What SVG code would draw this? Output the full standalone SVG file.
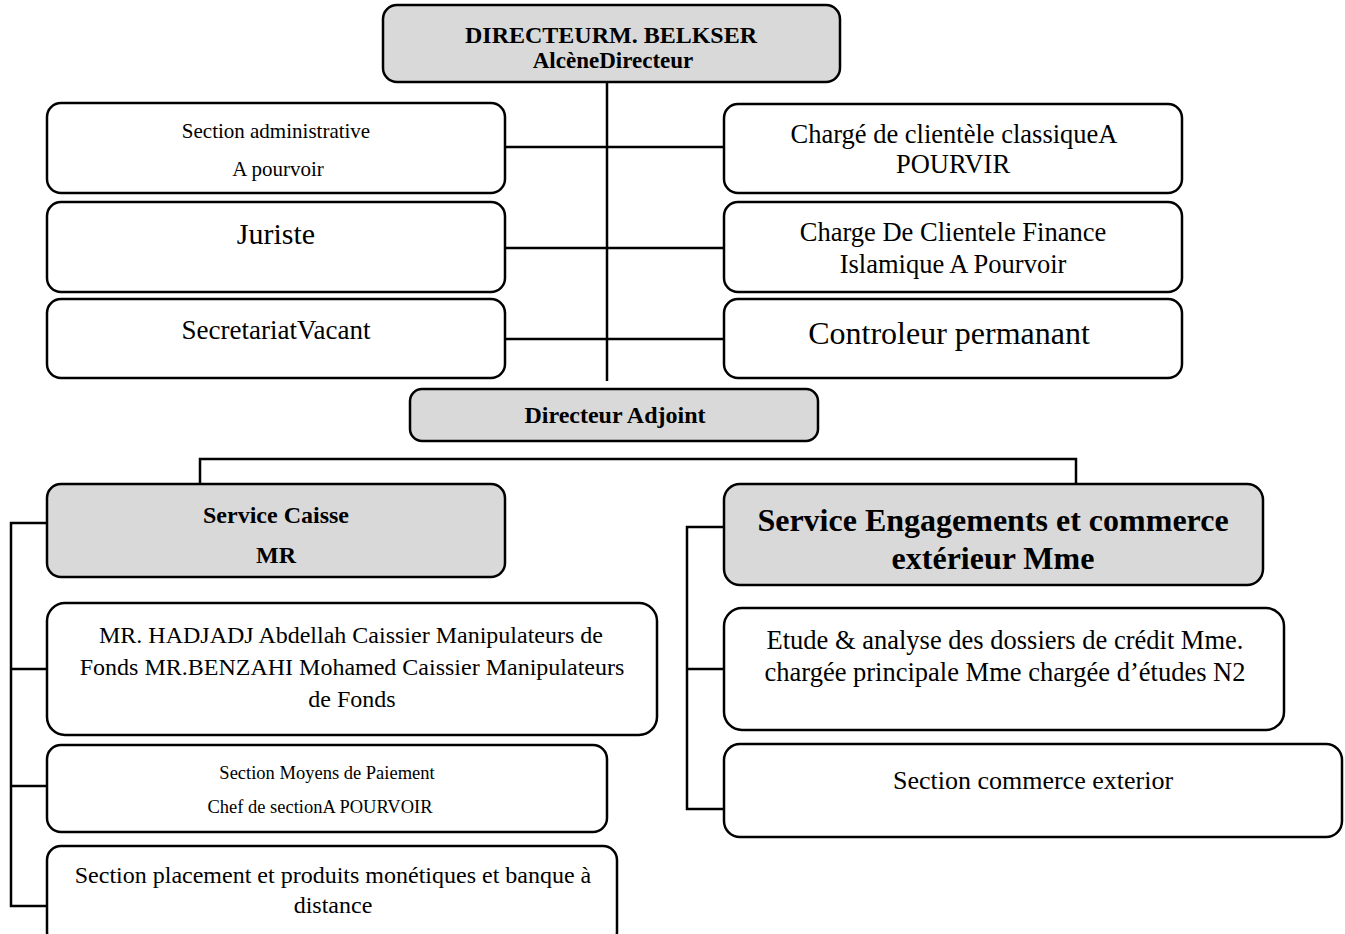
<svg xmlns="http://www.w3.org/2000/svg" width="1345" height="934" viewBox="0 0 1345 934">
<style>
.box{fill:#ffffff;stroke:#000;stroke-width:2.5}
.gray{fill:#d9d9d9;stroke:#000;stroke-width:2.5}
.ln{fill:none;stroke:#000;stroke-width:2.5}
text{font-family:"Liberation Serif","Times New Roman",serif;fill:#000;text-anchor:middle}
.b{font-weight:bold}
</style>
<rect width="1345" height="934" fill="#ffffff"/>
<g id="connectors">
<path class="ln" d="M607,82 V381"/>
<path class="ln" d="M505,147 H724 M505,248 H724 M505,339 H724"/>
<path class="ln" d="M200,484 V459 H1076 V484"/>
<path class="ln" d="M47,523 H11 V906 H47 M11,669 H47 M11,786 H47"/>
<path class="ln" d="M724,527 H687 V809 H724 M687,669 H724"/>
</g>
<g id="n_directeur">
<rect class="gray" x="383" y="5" width="457" height="77" rx="14"/>
<text class="b" x="611" y="43" font-size="24">DIRECTEURM. BELKSER</text>
<text class="b" x="613" y="68" font-size="23">AlcèneDirecteur</text>
</g>
<g id="n_section_admin">
<rect class="box" x="47" y="103" width="458" height="90" rx="14"/>
<text x="276" y="138" font-size="21">Section administrative</text>
<text x="278" y="176" font-size="21">A pourvoir</text>
</g>
<g id="n_juriste">
<rect class="box" x="47" y="202" width="458" height="90" rx="14"/>
<text x="276" y="244" font-size="30">Juriste</text>
</g>
<g id="n_secretariat">
<rect class="box" x="47" y="299" width="458" height="79" rx="14"/>
<text x="276" y="339" font-size="27">SecretariatVacant</text>
</g>
<g id="n_charge_classique">
<rect class="box" x="724" y="104" width="458" height="89" rx="14"/>
<text x="954" y="143" font-size="26.5">Chargé de clientèle classiqueA</text>
<text x="953" y="173" font-size="26.5">POURVIR</text>
</g>
<g id="n_charge_islamique">
<rect class="box" x="724" y="202" width="458" height="90" rx="14"/>
<text x="953" y="241" font-size="26.5">Charge De Clientele Finance</text>
<text x="953" y="273" font-size="26.5">Islamique A Pourvoir</text>
</g>
<g id="n_controleur">
<rect class="box" x="724" y="299" width="458" height="79" rx="14"/>
<text x="949" y="344" font-size="32">Controleur permanant</text>
</g>
<g id="n_adjoint">
<rect class="gray" x="410" y="389" width="408" height="52" rx="12"/>
<text class="b" x="615" y="423" font-size="24">Directeur Adjoint</text>
</g>
<g id="n_caisse">
<rect class="gray" x="47" y="484" width="458" height="93" rx="14"/>
<text class="b" x="276" y="523" font-size="24">Service Caisse</text>
<text class="b" x="276" y="563" font-size="24">MR</text>
</g>
<g id="n_engagements">
<rect class="gray" x="724" y="484" width="539" height="101" rx="16"/>
<text class="b" x="993" y="531" font-size="32">Service Engagements et commerce</text>
<text class="b" x="993" y="569" font-size="32">extérieur Mme</text>
</g>
<g id="n_caissiers">
<rect class="box" x="47" y="603" width="610" height="132" rx="18"/>
<text x="351" y="643" font-size="24">MR. HADJADJ Abdellah Caissier Manipulateurs de</text>
<text x="352" y="675" font-size="24">Fonds MR.BENZAHI Mohamed Caissier Manipulateurs</text>
<text x="352" y="707" font-size="24">de Fonds</text>
</g>
<g id="n_moyens">
<rect class="box" x="47" y="745" width="560" height="87" rx="14"/>
<text x="327" y="779" font-size="18.5">Section Moyens de Paiement</text>
<text x="320" y="813" font-size="18.5">Chef de sectionA POURVOIR</text>
</g>
<g id="n_placement">
<rect class="box" x="47" y="846" width="570" height="100" rx="14"/>
<text x="333" y="883" font-size="24">Section placement et produits monétiques et banque à</text>
<text x="333" y="913" font-size="24">distance</text>
</g>
<g id="n_etude">
<rect class="box" x="724" y="608" width="560" height="122" rx="18"/>
<text x="1005" y="649" font-size="26.5">Etude &amp; analyse des dossiers de crédit Mme.</text>
<text x="1005" y="681" font-size="26.5">chargée principale Mme chargée d’études N2</text>
</g>
<g id="n_commerce">
<rect class="box" x="724" y="744" width="618" height="93" rx="16"/>
<text x="1033" y="789" font-size="26">Section commerce exterior</text>
</g>
</svg>
